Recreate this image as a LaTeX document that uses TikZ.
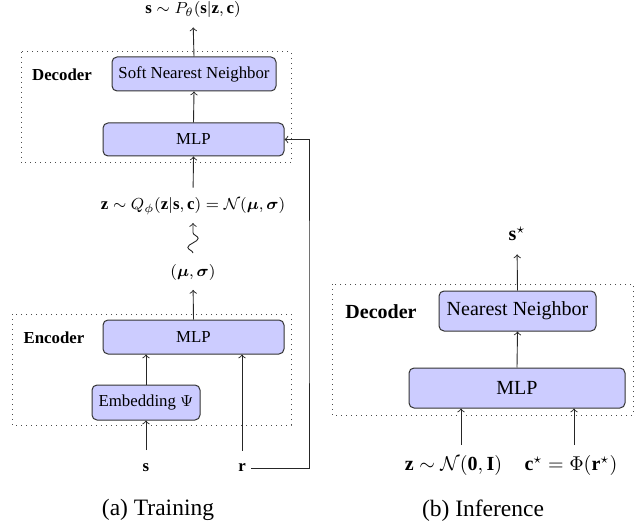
\documentclass[tikz,border=0pt]{standalone}
\usepackage{amsmath,bm}
\usepackage{fontspec}
\setmainfont{Liberation Serif}
\usetikzlibrary{decorations.pathmorphing}
\begin{document}
\begin{tikzpicture}[x=0.5pt,y=-0.5pt,
  box/.style={draw=black!80, fill=blue!20, rounded corners=2.5pt, line width=0.5pt, inner sep=0pt},
  grp/.style={draw=black!70, dotted, line width=0.5pt},
  lbl/.style={inner sep=0pt},
  arr/.style={->, line width=0.45pt, draw=black!85},
  lf/.style={font=\fontsize{8.4}{10}\selectfont},
  rf/.style={font=\fontsize{10}{12}\selectfont},
  cf/.style={font=\fontsize{11.75}{14}\selectfont}]
\useasboundingbox (0,0) rectangle (642,529);

% ---------- (a) Training ----------
\draw[grp] (21,52) rectangle (291,163);
\draw[grp] (12,314) rectangle (291,425);

\node[lbl,font=\fontsize{8.4}{10}\selectfont\bfseries] (declab) at (62,75) {Decoder};
\node[lbl,font=\fontsize{8.4}{10}\selectfont\bfseries] (enclab) at (54,338) {Encoder};

\node[box,lf,minimum width=82pt,minimum height=17pt] (softnn) at (194,74) {Soft Nearest Neighbor};
\node[box,lf,minimum width=90.5pt,minimum height=16.5pt] (dmlp) at (193.5,139.5) {MLP};
\node[box,lf,minimum width=90.5pt,minimum height=17pt] (emlp) at (193.5,337) {MLP};
\node[box,lf,minimum width=54pt,minimum height=17.5pt] (emb) at (146,402.5) {Embedding $\Psi$};

\node[lbl,lf] (tl) at (193,10) {$\mathbf{s}\sim P_\theta(\mathbf{s}|\mathbf{z},\mathbf{c})$};
\node[lbl,lf] (zl) at (193,206.5) {$\mathbf{z}\sim Q_\phi(\mathbf{z}|\mathbf{s},\mathbf{c})=\mathcal{N}(\bm{\mu},\bm{\sigma})$};
\node[lbl,lf] (mu) at (193,272.5) {$(\bm{\mu},\bm{\sigma})$};
\node[lbl,lf] (s) at (146,467.5) {$\mathbf{s}$};
\node[lbl,lf] (r) at (242,468) {$\mathbf{r}$};

\draw[arr,shorten >=4.5pt] (softnn.north) -- (tl.south);
\draw[arr] (dmlp.north) -- (softnn.south);
\draw[arr,shorten <=5pt] (zl.north) -- (dmlp.south);
\coordinate (sn1) at (193,253);
\coordinate (sn2) at (193,223);
\draw[arr,decorate,decoration={snake,amplitude=2.6pt,segment length=9pt,post length=2pt}] (sn1) -- (sn2);
\draw[arr,shorten >=4.5pt] (emlp.north) -- (mu.south);
\draw[arr] (emb.north) -- (emb.north |- emlp.south);
\draw[arr,shorten <=6.5pt] (s.north) -- (emb.south);
\draw[arr,shorten <=6.5pt] (r.north) -- (r.north |- emlp.south);
\coordinate (fb) at (309,300);
\draw[arr,shorten <=2.5pt] (r.east) -| (fb) |- (dmlp.east);

\node[lbl,cf] (capa) at (158,510) {(a) Training};

% ---------- (b) Inference ----------
\draw[grp] (332,284) rectangle (633,415);
\node[lbl,font=\fontsize{10}{12}\selectfont\bfseries] (declab2) at (381,312) {Decoder};
\node[box,rf,minimum width=78.5pt,minimum height=20pt] (nn) at (517.5,311) {Nearest Neighbor};
\node[box,rf,minimum width=108pt,minimum height=20pt] (rmlp) at (517,388) {MLP};
\node[lbl,rf] (sstar) at (517,234) {$\mathbf{s}^\star$};
\node[lbl,rf] (zr) at (453.5,465.5) {$\mathbf{z}\sim\mathcal{N}(\mathbf{0},\mathbf{I})$};
\node[lbl,rf] (cr) at (571,465.5) {$\mathbf{c}^\star=\Phi(\mathbf{r}^\star)$};

\draw[arr,shorten >=6.5pt] (nn.north) -- (sstar.south);
\draw[arr] (rmlp.north) -- (nn.south);
\coordinate (zin) at (461,445);
\coordinate (cin) at (574,445);
\draw[arr] (zin) -- (zin |- rmlp.south);
\draw[arr] (cin) -- (cin |- rmlp.south);

\node[lbl,cf] (capb) at (483,511) {(b) Inference};
\end{tikzpicture}
\end{document}
